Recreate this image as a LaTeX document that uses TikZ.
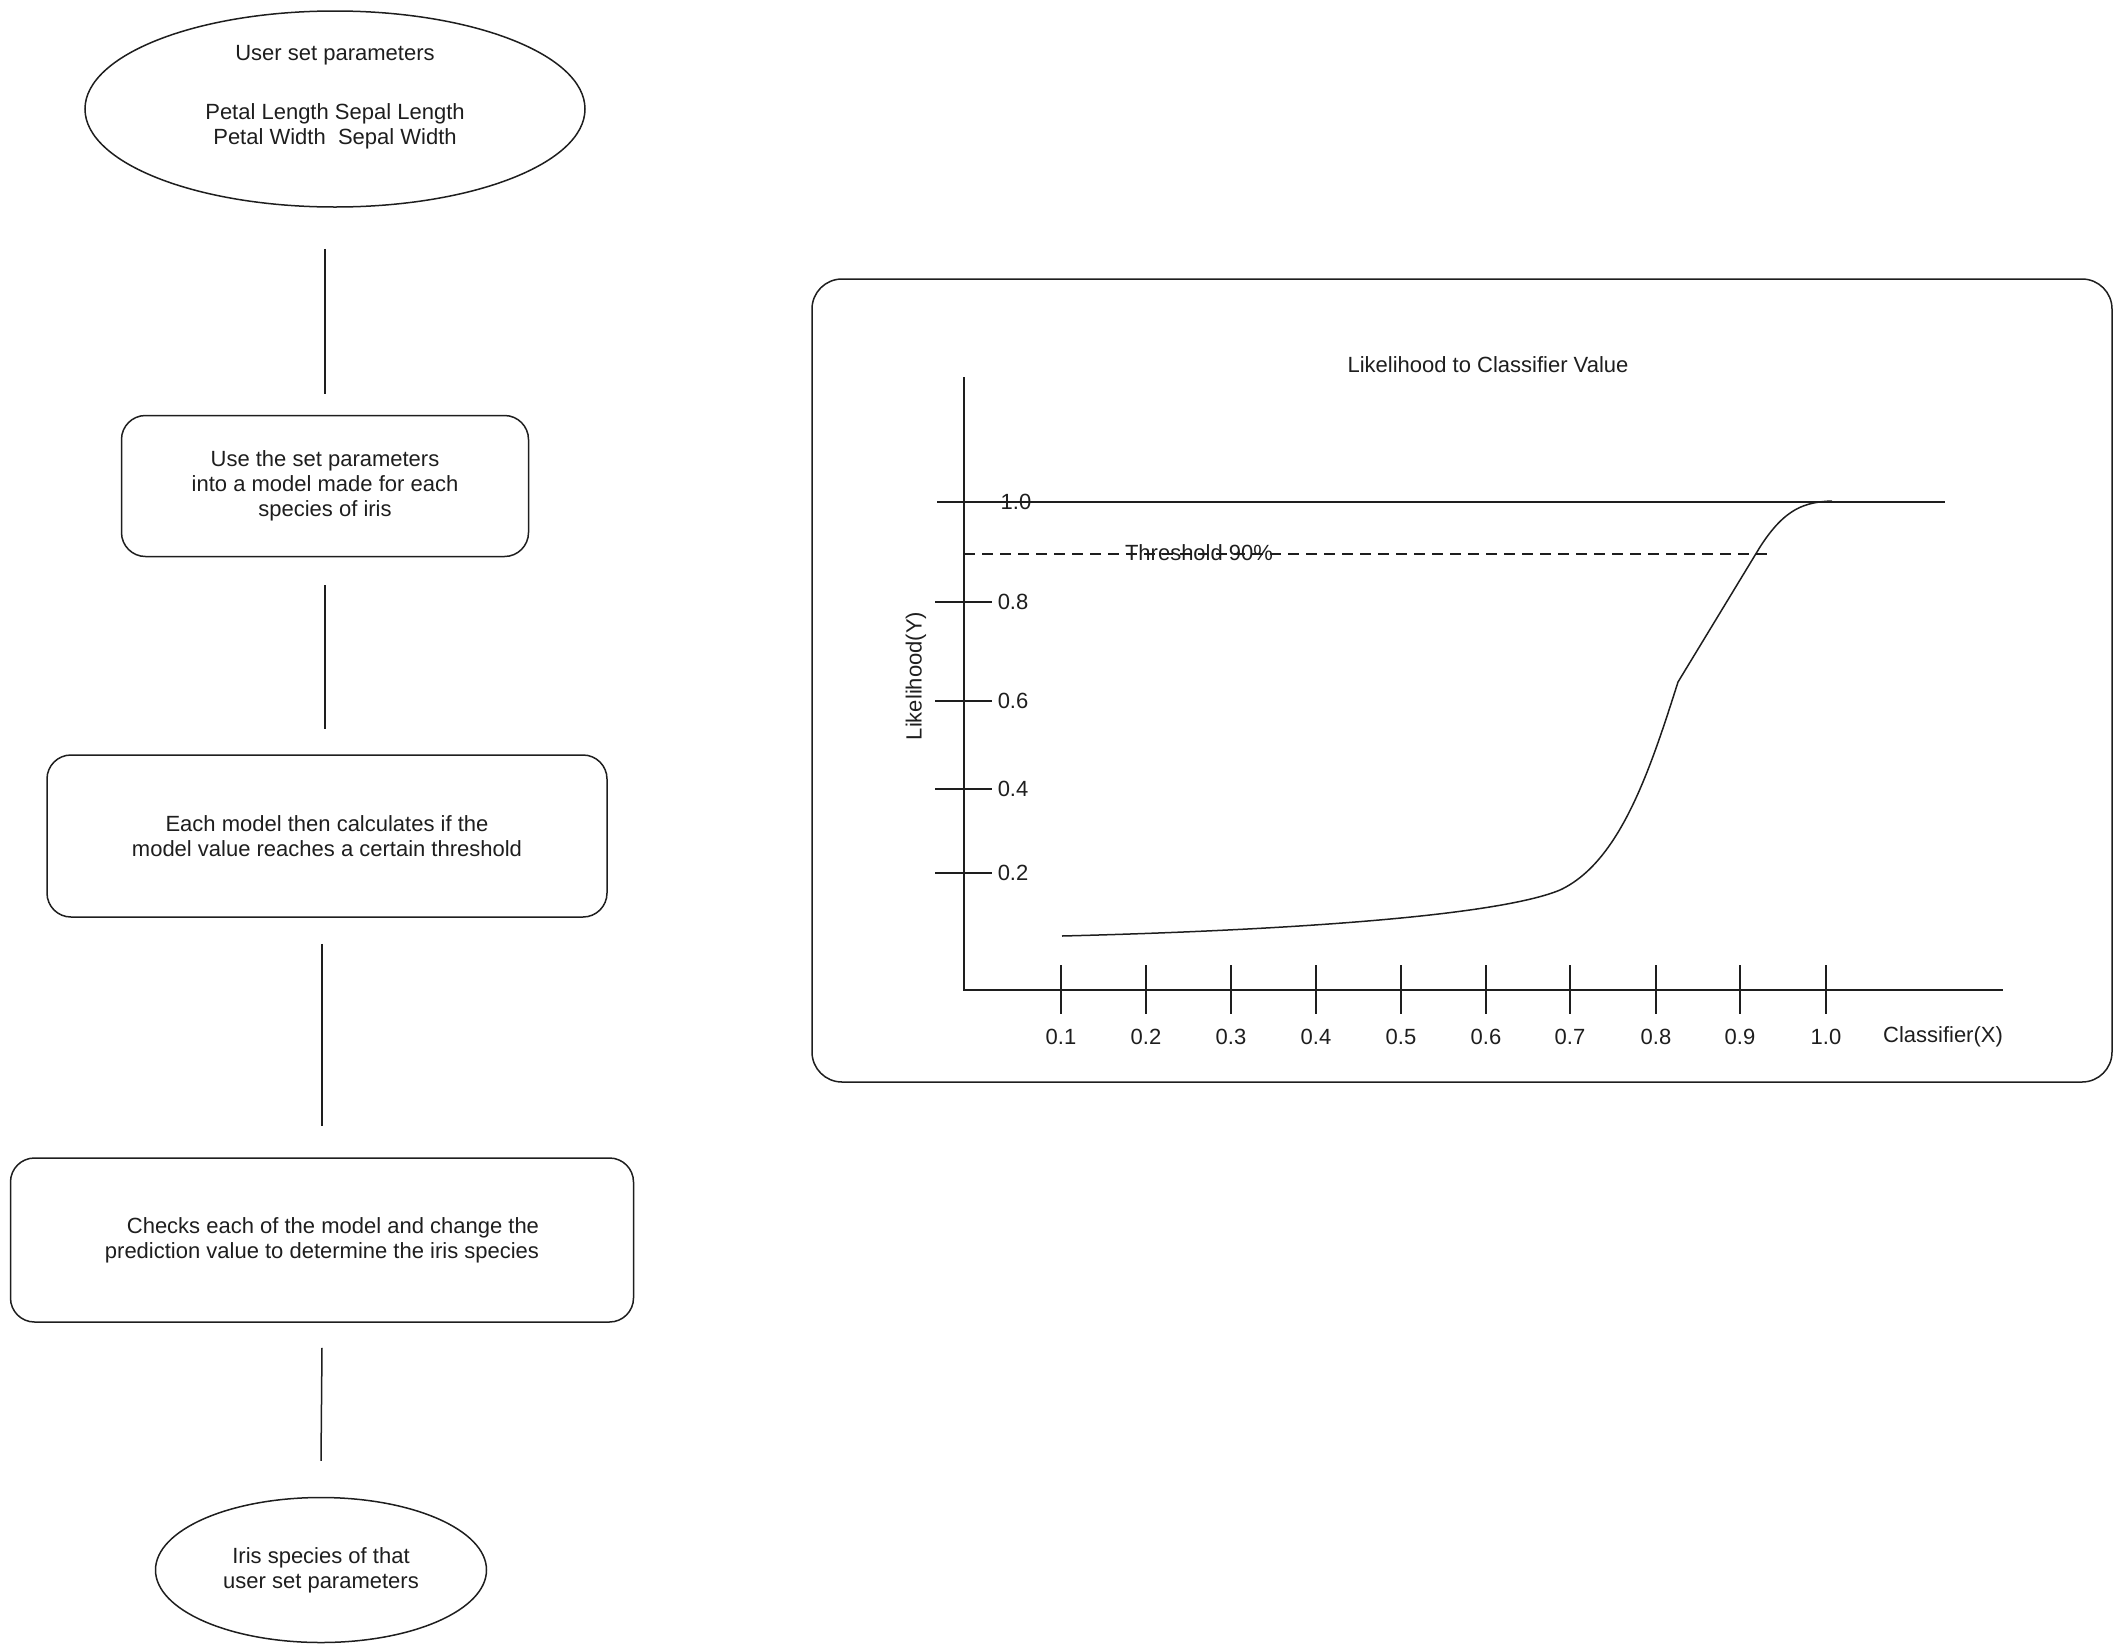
\documentclass[tikz,border=0pt]{standalone}
\usepackage{fontspec}
\setmainfont{Liberation Sans}
\usetikzlibrary{shapes.geometric, calc}
\definecolor{inkgray}{RGB}{30, 30, 30}

\begin{document}
\begin{tikzpicture}[x=1pt, y=-1pt,
            % Set global font size for consistency
            font=\fontsize{22}{25}\selectfont,
            % Define reusable styles for the flow chart and the plot
            oval/.style={ellipse, draw=inkgray, line width=1.5pt, inner sep=0pt, align=center, text=inkgray},
            stepbox/.style={rectangle, rounded corners=24pt, draw=inkgray, line width=1.5pt, inner sep=0pt, align=center, text=inkgray},
            link/.style={inkgray, line width=1.5pt},
            frame/.style={draw=inkgray, line width=1.5pt, rounded corners=30pt},
            axis/.style={inkgray, line width=1.8pt},
            tick/.style={inkgray, line width=1.5pt},
            threshold/.style={inkgray, line width=1.5pt, dash pattern=on 11pt off 7pt},
            curve/.style={inkgray, line width=1.5pt},
            txt/.style={align=center, text=inkgray, inner sep=0pt}
        ]

        \useasboundingbox (0,0) rectangle (2121,1652);

        % Flow chart on the left
        \node[oval, minimum width=500pt, minimum height=196pt] (params) at (335,109) {};
        \node[txt] (paramstext) at (335,97) {User set parameters\\[34pt]Petal Length Sepal Length\\Petal Width\ \ Sepal Width};
        \node[stepbox, minimum width=407pt, minimum height=141pt] (models) at (325,486)
            {Use the set parameters\\into a model made for each\\species of iris};
        \node[stepbox, minimum width=560pt, minimum height=162pt] (check) at (327,836)
            {Each model then calculates if the\\model value reaches a certain threshold};
        \node[stepbox, minimum width=623pt, minimum height=164pt, align=right] (predict) at (322,1240)
            {Checks each of the model and change the\\prediction value to determine the iris species};
        \node[oval, minimum width=331pt, minimum height=145pt] (species) at (321,1570)
            {Iris species of that\\user set parameters};

        \draw[link] ($(models.north |- params.south)+(0,41)$) -- ($(models.north)+(0,-21)$);
        \draw[link] ($(models.south)+(0,28)$) -- ($(models.south |- check.north)+(0,-25)$);
        \draw[link] ($(predict.north |- check.south)+(0,26)$) -- ($(predict.north)+(0,-31)$);
        \draw[link] ($(predict.south)+(0,25)$) -- ($(species.north)+(0,-36)$);

        % Plot panel on the right
        \draw[frame] (812,279) rectangle (2112,1082);
        \node[txt] (title) at (1488,365) {Likelihood to Classifier Value};

        \draw[axis] (964,377) -- (964,990) -- (2003,990);
        \node[txt, rotate=90] (ylabel) at (916,676) {Likelihood(Y)};
        \node[txt] (xlabel) at (1943,1037) {Classifier(X)};

        % The 1.0 level runs through its own label
        \draw[axis] (937,502) -- (1945,502);
        \node[txt] (yone) at (1016,502) {1.0};
        \foreach \y/\lab in {602/0.8, 701/0.6, 789/0.4, 873/0.2} {
            \draw[tick] (935,\y) -- (992,\y) node[right, txt, xshift=5pt] {\lab};
        }
        \foreach \x/\lab in {1061/0.1, 1146/0.2, 1231/0.3, 1316/0.4, 1401/0.5,
                             1486/0.6, 1570/0.7, 1656/0.8, 1740/0.9, 1826/1.0} {
            \draw[tick] (\x,965) -- (\x,1014);
            \node[txt] at (\x,1037) {\lab};
        }

        \draw[threshold] (964,554) -- (1773,554);
        \node[txt] (thlabel) at (1199,553) {Threshold 90\%};

        \draw[curve] (1062,936) .. controls (1300,930) and (1500,915) .. (1560,890)
            .. controls (1620,862) and (1650,770) .. (1678,682) -- (1760,547)
            .. controls (1785,508) and (1805,502) .. (1832,501);

\end{tikzpicture}
\end{document}
